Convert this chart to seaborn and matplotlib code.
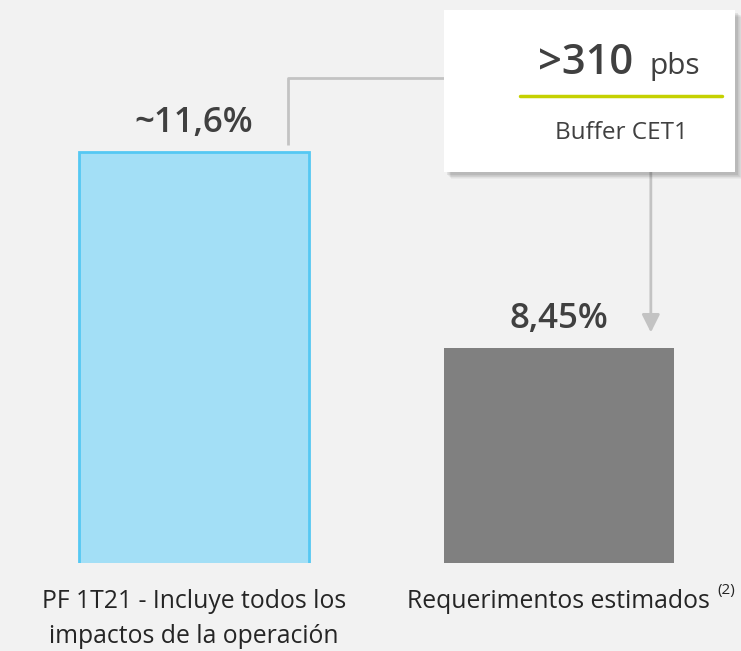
import numpy as np
import pandas as pd
import matplotlib
matplotlib.use("Agg")
import matplotlib.pyplot as plt
import seaborn as sns
from matplotlib.patches import Rectangle

categories = ["PF 1T21 - Incluye todos los\nimpactos de la operación",
              "Requerimentos estimados"]
footnote = "(2)"
values = [11.6, 8.45]
value_labels = ["~11,6%", "8,45%"]
buffer_value = ">310"
buffer_unit = "pbs"
buffer_label = "Buffer CET1"

BG = "#f2f2f2"
TXT = "#404040"
BLUE = "#55c8f3"
BLUE_FILL = "#a3dff6"
GREY = "#808080"
LINE = "#c3c3c3"

sns.set_theme(style="white")
plt.rcParams["font.family"] = ["Open Sans", "DejaVu Sans"]

df = pd.DataFrame({"cat": categories, "val": values})

fig = plt.figure(figsize=(7.41, 6.51), dpi=100, facecolor=BG)
ax = fig.add_axes([0, 88 / 651, 1, 563 / 651])
ax.set_facecolor(BG)

sns.barplot(data=df, x="cat", y="val", ax=ax, width=0.63, palette=[BLUE_FILL, GREY],
            hue="cat", legend=False, saturation=1)

ax.set_xlim(-0.531, 1.499)
ax.set_ylim(5, 5 + 563 / 62.3)

bars = ax.patches
bars[0].set_edgecolor(BLUE)
bars[0].set_linewidth(2)
bars[1].set_edgecolor("none")

for i, (v, lab) in enumerate(zip(values, value_labels)):
    ax.annotate(lab, xy=(i, v), xytext=(0, 14.5), textcoords="offset points",
                ha="center", va="baseline", fontsize=25,
                fontweight="semibold", color=TXT)

ax.set_xticks([])
ax.set_yticks([])
for s in ax.spines.values():
    s.set_visible(False)
ax.set_xlabel("")
ax.set_ylabel("")

# category labels under the bars
for i, cat in enumerate(categories):
    for j, line in enumerate(cat.split("\n")):
        ax.annotate(line, xy=(i, 5), xytext=(0, -(45 + 35 * j) * 0.72),
                    textcoords="offset points", ha="center", va="baseline",
                    fontsize=17.8, color="#252525", annotation_clip=False)
fig.text(717 / 741, 1 - 583 / 651, footnote, ha="left", va="top", fontsize=11,
         color="#252525")

# connector from first bar to the callout box
ax.plot([0.2575, 0.2575, 0.685], [values[0] + 0.11, 12.78, 12.78], color=LINE,
        lw=2, solid_capstyle="butt", clip_on=False)
ax.annotate("", xy=(1.252, values[1] + 0.25), xytext=(1.252, 11.3),
            arrowprops=dict(arrowstyle="-|>,head_length=0.9,head_width=0.45",
                            color=LINE, lw=2, shrinkA=0, shrinkB=0))

# callout box with soft shadow
bx0, by0, bw, bh = 444 / 741, 1 - 172 / 651, 291 / 741, 162 / 651
for k in range(7, 0, -1):
    fig.patches.append(Rectangle((bx0 + (2 + k * 0.7) / 741, by0 - (2 + k * 0.7) / 651),
                                 bw, bh, transform=fig.transFigure,
                                 facecolor="black", alpha=0.035, edgecolor="none",
                                 zorder=5))
fig.patches.append(Rectangle((bx0, by0), bw, bh, transform=fig.transFigure,
                             facecolor="white", edgecolor="none", zorder=6))
fig.add_artist(plt.Line2D([520 / 741, 722 / 741], [1 - 96 / 651, 1 - 96 / 651],
                          color="#c5d100", lw=2.5, zorder=7))
fig.text(633 / 741, 1 - 74 / 651, buffer_value, ha="right", va="baseline",
         fontsize=30, fontweight="semibold", color=TXT, zorder=8)
fig.text(650 / 741, 1 - 74 / 651, buffer_unit, ha="left", va="baseline",
         fontsize=21.5, color=TXT, zorder=8)
fig.text(621 / 741, 1 - 139 / 651, buffer_label, ha="center", va="baseline",
         fontsize=17.5, color=TXT, zorder=8)

fig.savefig("out.png", dpi=100, facecolor=BG)
